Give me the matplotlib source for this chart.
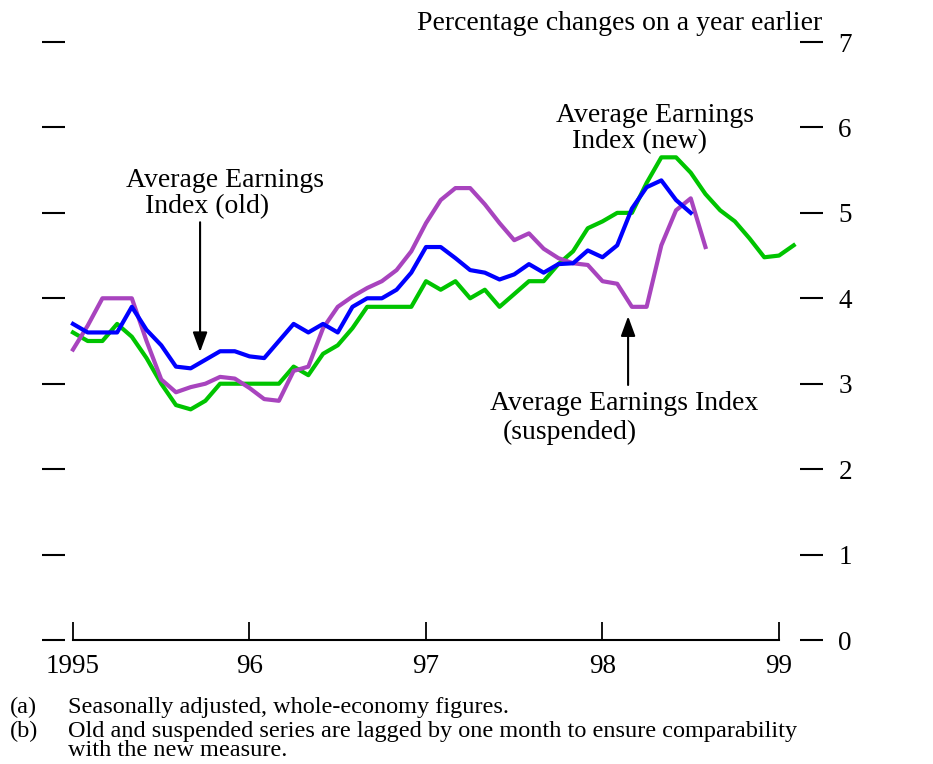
import matplotlib
matplotlib.use("Agg")
import matplotlib.pyplot as plt
import numpy as np

# ---- data (monthly, Jan 1995 onward) ----
start_year = 1995
new_aei = [3.6, 3.5, 3.5, 3.7, 3.55, 3.3, 3.0, 2.75, 2.7, 2.8, 3.0, 3.0,
           3.0, 3.0, 3.0, 3.2, 3.1, 3.35, 3.45, 3.65, 3.9, 3.9, 3.9, 3.9,
           4.2, 4.1, 4.2, 4.0, 4.1, 3.9, 4.05, 4.2, 4.2, 4.4, 4.55, 4.82,
           4.9, 5.0, 5.0, 5.35, 5.65, 5.65, 5.47, 5.22, 5.03, 4.9, 4.7, 4.48,
           4.5, 4.62]
old_aei = [3.7, 3.6, 3.6, 3.6, 3.9, 3.63, 3.45, 3.2, 3.18, 3.28, 3.38, 3.38,
           3.32, 3.3, 3.5, 3.7, 3.6, 3.7, 3.6, 3.9, 4.0, 4.0, 4.1, 4.3,
           4.6, 4.6, 4.47, 4.33, 4.3, 4.22, 4.28, 4.4, 4.3, 4.4, 4.41, 4.56,
           4.48, 4.62, 5.05, 5.3, 5.38, 5.15, 5.0]
suspended_aei = [3.4, 3.68, 4.0, 4.0, 4.0, 3.5, 3.05, 2.9, 2.96, 3.0, 3.08, 3.06,
                 2.95, 2.82, 2.8, 3.15, 3.2, 3.65, 3.9, 4.02, 4.12, 4.2, 4.33, 4.55,
                 4.88, 5.15, 5.29, 5.29, 5.1, 4.88, 4.68, 4.76, 4.58, 4.47, 4.41, 4.39,
                 4.2, 4.17, 3.9, 3.9, 4.62, 5.03, 5.17, 4.6]
x_ticks = [1995, 1996, 1997, 1998, 1999]
x_ticklabels = ["1995", "96", "97", "98", "99"]
y_ticks = [0, 1, 2, 3, 4, 5, 6, 7]

def months(series):
    return start_year + np.arange(len(series)) / 12.0

FONT = "Liberation Serif"
plt.rcParams["font.family"] = [FONT, "DejaVu Serif"]

fig = plt.figure(figsize=(9.33, 7.64), dpi=100)
ax = fig.add_axes([42 / 933, 1 - 640 / 764, 781 / 933, 598 / 764])

c_green = "#00C400"
c_blue = "#0000FF"
c_purple = "#A844BE"
lw = 3.0
ax.plot(months(new_aei), new_aei, color=c_green, lw=lw, solid_joinstyle="round", zorder=3)
ax.plot(months(suspended_aei), suspended_aei, color=c_purple, lw=lw, solid_joinstyle="round", zorder=4)
ax.plot(months(old_aei), old_aei, color=c_blue, lw=lw, solid_joinstyle="round", zorder=5)

ax.set_xlim(1994.8244, 1999.2493)
ax.set_ylim(0, 7)

for s in ["top", "left", "right"]:
    ax.spines[s].set_visible(False)
ax.spines["bottom"].set_bounds(1995, 1999)
ax.spines["bottom"].set_linewidth(1.5)

ax.set_xticks(x_ticks)
ax.set_xticklabels(x_ticklabels)
ax.set_yticks(y_ticks)
ax.tick_params(axis="x", direction="in", length=13, width=1.3, pad=10,
               labelsize=19.5, colors="black")
ax.tick_params(axis="y", direction="in", length=16.5, width=1.5, pad=11,
               left=True, right=True, labelleft=False, labelright=True,
               labelsize=19.5, colors="black")

ts = 20
arrow_style = "-|>,head_length=0.6,head_width=0.22"
# annotations
ax.text(1995.861, 5.373, "Average Earnings", ha="center", va="center", fontsize=ts)
ax.text(1995.759, 5.068, "Index (old)", ha="center", va="center", fontsize=ts)
ax.annotate("", xy=(1995.72, 3.37), xytext=(1995.72, 4.89),
            arrowprops=dict(arrowstyle=arrow_style, mutation_scale=20,
                            lw=1.5, color="black", shrinkA=0, shrinkB=0))

ax.text(1998.297, 6.134, "Average Earnings", ha="center", va="center", fontsize=ts)
ax.text(1998.212, 5.829, "Index (new)", ha="center", va="center", fontsize=ts)

ax.text(1998.122, 2.774, "Average Earnings Index", ha="center", va="center", fontsize=ts)
ax.text(1997.816, 2.435, "(suspended)", ha="center", va="center", fontsize=ts)
ax.annotate("", xy=(1998.145, 3.79), xytext=(1998.145, 2.985),
            arrowprops=dict(arrowstyle=arrow_style, mutation_scale=20,
                            lw=1.5, color="black", shrinkA=0, shrinkB=0))

fig.text(822 / 933, 1 - 24 / 764, "Percentage changes on a year earlier",
         ha="right", va="center", fontsize=ts)

fs = 17.5
fig.text(10 / 933, 1 - 707 / 764, "(a)", ha="left", va="center", fontsize=fs)
fig.text(68 / 933, 1 - 707 / 764, "Seasonally adjusted, whole-economy figures.",
         ha="left", va="center", fontsize=fs)
fig.text(10 / 933, 1 - 731 / 764, "(b)", ha="left", va="center", fontsize=fs)
fig.text(68 / 933, 1 - 731 / 764,
         "Old and suspended series are lagged by one month to ensure comparability",
         ha="left", va="center", fontsize=fs)
fig.text(68 / 933, 1 - 751 / 764, "with the new measure.",
         ha="left", va="center", fontsize=fs)

fig.savefig("out.png", dpi=100)
